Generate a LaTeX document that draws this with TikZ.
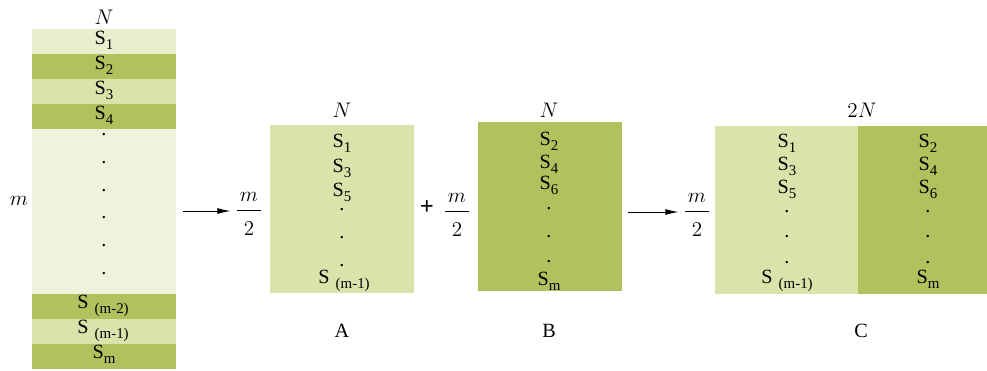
\documentclass[tikz,border=0pt]{standalone}
\usepackage{fontspec}
\setmainfont{Liberation Serif}
\usetikzlibrary{arrows.meta}
\definecolor{rowpale}{HTML}{E9EFCD}
\definecolor{rowdark}{HTML}{AFC25E}
\definecolor{rowmid}{HTML}{D9E3AA}
\definecolor{rowfaint}{HTML}{EFF3DD}
\newcommand{\Sx}[1]{S\raisebox{-3.2pt}{\fontsize{8.5}{9}\selectfont #1}}
\newcommand{\Sgap}[1]{S\hspace{3.5pt}\raisebox{-3.2pt}{\fontsize{8.5}{9}\selectfont #1}}
\newcommand{\halfm}{$\displaystyle\frac{\hspace{1.5pt}m\hspace{1.5pt}}{\rule{0pt}{12.5pt}2}$}
\tikzset{
  lbl/.style={anchor=base, inner sep=0pt},
  dotmark/.style={anchor=base, inner sep=0pt},
  frac/.style={anchor=base, inner sep=2.5pt},
  arr/.style={-{Latex[length=7.5pt,width=3.4pt]}, line width=0.5pt}
}

\begin{document}
\begin{tikzpicture}[x=0.02cm, y=-0.02cm, font=\fontsize{11.5}{13}\selectfont]
\useasboundingbox (0,0) rectangle (987,370);
% source block, m rows
\fill[rowpale] (32,29) rectangle (176,54);
\fill[rowdark] (32,54) rectangle (176,79);
\fill[rowmid] (32,79) rectangle (176,104);
\fill[rowdark] (32,104) rectangle (176,129);
\fill[rowfaint] (32,129) rectangle (176,294);
\fill[rowdark] (32,294) rectangle (176,319);
\fill[rowmid] (32,319) rectangle (176,344);
\fill[rowdark] (32,344) rectangle (176,369);
\node[lbl] (nL) at (104,24) {$N$};
\node[lbl] (mL) at (19,205) {$m$};
\node[lbl] (L1) at (104,44) {\Sx{1}};
\node[lbl] (L2) at (104,69) {\Sx{2}};
\node[lbl] (L3) at (104,94) {\Sx{3}};
\node[lbl] (L4) at (104,119) {\Sx{4}};
\foreach \y [count=\i] in {135,163,191,218,246,274}
  \node[dotmark] (dL\i) at (104,\y) {.};
\node[lbl] (Lm2) at (103,308) {\Sgap{(m-2)}};
\node[lbl] (Lm1) at (103,333) {\Sgap{(m-1)}};
\node[lbl] (Lm) at (104,358) {\Sx{m}};
% A: odd rows
\fill[rowmid] (270,125) rectangle (414,293);
\node[lbl] (nA) at (342,117) {$N$};
\node[lbl] (A1) at (342,147) {\Sx{1}};
\node[lbl] (A3) at (342,172) {\Sx{3}};
\node[lbl] (A5) at (342,196) {\Sx{5}};
\foreach \y [count=\i] in {210,238,266}
  \node[dotmark] (dA\i) at (342,\y) {.};
\node[lbl] (Am1) at (344,283) {\Sgap{(m-1)}};
\node[lbl] (labA) at (342,337) {A};
% B: even rows
\fill[rowdark] (478,122) rectangle (622,291);
\node[lbl] (nB) at (549,117) {$N$};
\node[lbl] (B2) at (549,145) {\Sx{2}};
\node[lbl] (B4) at (549,168) {\Sx{4}};
\node[lbl] (B6) at (549,189) {\Sx{6}};
\foreach \y [count=\i] in {209,237,262}
  \node[dotmark] (dB\i) at (549,\y) {.};
\node[lbl] (Bm) at (549,285) {\Sx{m}};
\node[lbl] (labB) at (549,337) {B};
% C: A and B side by side
\fill[rowmid] (715,126) rectangle (858,294);
\fill[rowdark] (858,126) rectangle (987,294);
\node[lbl] (nC) at (862,117) {$2N$};
\node[lbl] (C1) at (787,147) {\Sx{1}};
\node[lbl] (C3) at (787,170) {\Sx{3}};
\node[lbl] (C5) at (787,193) {\Sx{5}};
\node[lbl] (C2) at (928,147) {\Sx{2}};
\node[lbl] (C4) at (928,170) {\Sx{4}};
\node[lbl] (C6) at (928,193) {\Sx{6}};
\foreach \y [count=\i] in {212,237,263} {
  \node[dotmark] (dCl\i) at (787,\y) {.};
  \node[dotmark] (dCr\i) at (928,\y) {.};
}
\node[lbl] (Cm1) at (787,283) {\Sgap{(m-1)}};
\node[lbl] (Cm) at (928,283) {\Sx{m}};
\node[lbl] (labC) at (861,337) {C};
% row counts and arrows
\node[frac] (fracA) at (249,216) {\halfm};
\node[frac] (fracB) at (457,217) {\halfm};
\node[frac] (fracC) at (697,217) {\halfm};
\node[inner sep=0pt] (plus) at (427,208) {\fontsize{14}{14}\selectfont\textbf{+}};
\coordinate (arA) at (183,211);
\coordinate (arC) at (628,212);
\draw[arr] (arA) -- (arA -| fracA.west);
\draw[arr] (arC) -- (arC -| fracC.west);
\end{tikzpicture}
\end{document}
